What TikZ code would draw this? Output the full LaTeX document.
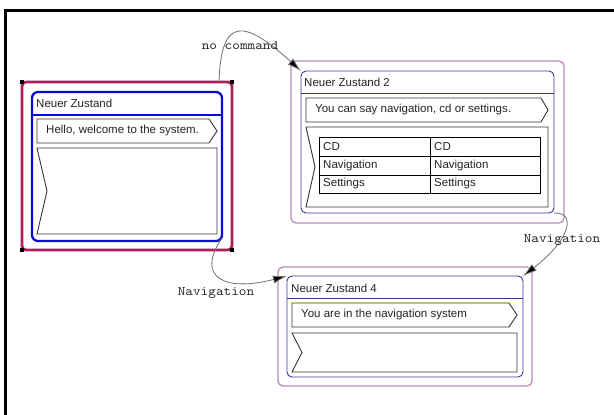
\documentclass[tikz,border=0pt]{standalone}
\usepackage{fontspec}
\setmainfont{Liberation Sans}
\newfontfamily\labelmono{lmmono10-regular}[Extension=.otf,FakeStretch=1.12]
\usetikzlibrary{arrows.meta}
\definecolor{selred}{RGB}{170,30,90}
\definecolor{selblue}{RGB}{10,10,210}
\definecolor{outerpurple}{RGB}{185,140,185}
\definecolor{innernavy}{RGB}{55,55,150}
\definecolor{edgegray}{RGB}{110,110,110}
\definecolor{txt}{RGB}{35,35,35}
\begin{document}
\begin{tikzpicture}[x=1pt,y=-1pt,
  boxnode/.style={rectangle,inner sep=0pt,outer sep=0pt},
  seloutbox/.style={boxnode,draw=selred,line width=2.8pt,rounded corners=4pt},
  selinbox/.style={boxnode,draw=selblue,line width=2.3pt,rounded corners=6pt},
  outbox/.style={boxnode,draw=outerpurple,line width=1.3pt,rounded corners=5pt},
  inbox/.style={boxnode,draw=innernavy,line width=0.9pt,rounded corners=5pt},
  shapeline/.style={draw=black!80,line width=0.9pt},
  title/.style={anchor=west,inner sep=0pt,font=\fontsize{11.5}{13}\selectfont,text=txt},
  bodytext/.style={anchor=west,inner sep=0pt,font=\fontsize{11.5}{13}\selectfont,text=txt},
  conn/.style={draw=edgegray,line width=0.8pt,-{Latex[length=14pt,width=8pt,fill=black]}},
  connlabel/.style={inner sep=0pt,font=\labelmono\fontsize{13}{15}\selectfont,text=black!85},
  handle/.style={fill=black,minimum size=4pt,inner sep=0pt,rectangle}
]
\useasboundingbox (0,0) rectangle (614,415);
% frame
\draw[line width=3pt] (5.5,415) -- (5.5,10) -- (614,10);

% ---------- Box 1 (selected) ----------
\node[seloutbox,minimum width=210pt,minimum height=168pt] (b1out) at (127,166) {};
\node[selinbox,minimum width=190pt,minimum height=149pt] (b1in) at (127,166.5) {};
\foreach \c in {north west,north east,south west,south east}
  \node[handle] at (b1out.\c) {};
\draw[selblue,line width=2.3pt] (b1in.west |- 0,115) -- (b1in.east |- 0,115);
\node[title] (t1) at (36,103) {Neuer Zustand};
\draw[shapeline] (37,119) -- (209,119) -- (217,131) -- (209,143) -- (37,143) -- cycle;
\node[bodytext] (p1) at (46,131) {Hello, welcome to the system.};
\draw[shapeline] (37,148) -- (217,148) -- (217,234) -- (37,234) -- (47,191) -- cycle;

% ---------- Box 2 ----------
\node[outbox,minimum width=273pt,minimum height=162pt] (b2out) at (427.5,142) {};
\node[inbox,minimum width=253pt,minimum height=142pt] (b2in) at (427.5,142) {};
\draw[innernavy,line width=0.9pt] (b2in.west |- 0,93) -- (b2in.east |- 0,93);
\node[title] (t2) at (304,82) {Neuer Zustand 2};
\draw[shapeline] (306,98) -- (541,98) -- (548,110) -- (541,122) -- (306,122) -- cycle;
\node[bodytext] (p2) at (315,110) {You can say navigation, cd or settings.};
\draw[shapeline] (306,127) -- (548,127) -- (548,207) -- (306,207) -- (315,167) -- cycle;
% table
\draw[black,line width=0.9pt] (319,137) rectangle (540,193);
\draw[black,line width=0.9pt] (430,137) -- (430,193);
\draw[black,line width=0.9pt] (319,156) -- (540,156);
\draw[black,line width=0.9pt] (319,175) -- (540,175);
\node[bodytext] (c11) at (323,146.5) {CD};
\node[bodytext] (c12) at (434,146.5) {CD};
\node[bodytext] (c21) at (323,165.5) {Navigation};
\node[bodytext] (c22) at (434,165.5) {Navigation};
\node[bodytext] (c31) at (323,184) {Settings};
\node[bodytext] (c32) at (434,184) {Settings};

% ---------- Box 4 ----------
\node[outbox,minimum width=254pt,minimum height=119pt] (b4out) at (405,326.5) {};
\node[inbox,minimum width=236pt,minimum height=101pt] (b4in) at (405,326.5) {};
\draw[innernavy,line width=0.9pt] (b4in.west |- 0,298) -- (b4in.east |- 0,298);
\node[title] (t4) at (291,288) {Neuer Zustand 4};
\draw[shapeline] (292,303) -- (509,303) -- (517,315) -- (509,327) -- (292,327) -- cycle;
\node[bodytext] (p4) at (301,315) {You are in the navigation system};
\draw[shapeline] (292,333) -- (517,333) -- (517,372) -- (292,372) -- (302,352.5) -- cycle;

% ---------- Connectors ----------
\coordinate (s1) at (219,82);
\draw[conn] (s1) .. controls (221,15) and (245,20) .. (b2in.north west);
\node[connlabel] (l1) at (240,46) {no command};

\coordinate (s2) at (222,238);
\draw[conn] (s2) .. controls (195,278) and (225,292) .. (b4in.north west);
\node[connlabel] (l2) at (216,293) {Navigation};

\draw[conn] (b2in.south east) .. controls (577,212) and (570,240) .. (b4in.north east);
\node[connlabel] (l3) at (562,240) {Navigation};
\end{tikzpicture}
\end{document}
